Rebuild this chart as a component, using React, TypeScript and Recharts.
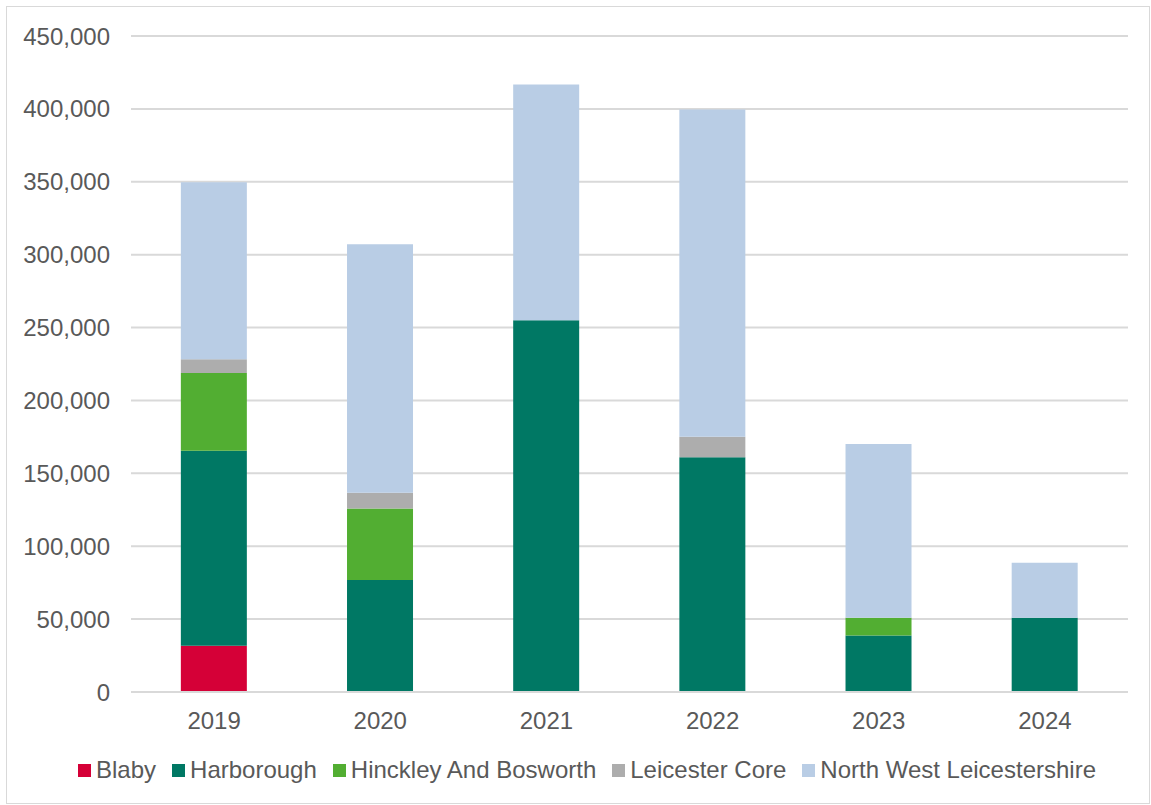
import React from "react"
import { BarChart, Bar, XAxis, YAxis, CartesianGrid } from "recharts"

const years = ["2019", "2020", "2021", "2022", "2023", "2024"]
const blaby = [31700, 0, 0, 0, 0, 0]
const harborough = [133800, 76900, 255000, 161000, 38800, 50900]
const hinckley = [53400, 48900, 0, 0, 12100, 0]
const leicesterCore = [9400, 10900, 0, 14100, 0, 0]
const northWest = [121300, 170400, 161700, 224500, 119200, 37700]
const yTicks = [0, 50000, 100000, 150000, 200000, 250000, 300000, 350000, 400000, 450000]

const series = [
  { key: "blaby", name: "Blaby", color: "#D50037", values: blaby },
  { key: "harborough", name: "Harborough", color: "#007864", values: harborough },
  { key: "hinckley", name: "Hinckley And Bosworth", color: "#52AE32", values: hinckley },
  { key: "leicesterCore", name: "Leicester Core", color: "#ADADAD", values: leicesterCore },
  { key: "northWest", name: "North West Leicestershire", color: "#B9CDE5", values: northWest },
]

const data = years.map((year, i) => {
  const row: Record<string, string | number> = { year }
  series.forEach((s) => {
    row[s.key] = s.values[i]
  })
  return row
})

const font = "'Liberation Sans', Arial, sans-serif"
const textColor = "#595959"
const gridColor = "#D9D9D9"

export default function App() {
  return (
    <div style={{ position: "absolute", left: 0, top: 0, width: 1151, height: 805, background: "#fff", fontFamily: font }}>
      <div
        style={{
          position: "absolute",
          left: 6,
          top: 6,
          width: 1142,
          height: 796,
          border: `1px solid ${gridColor}`,
        }}
      />
      <div style={{ position: "absolute", left: 0, top: 0 }}>
        <BarChart
          width={1151}
          height={805}
          data={data}
          margin={{ top: 36, right: 23, left: 31, bottom: 73 }}
          barCategoryGap="30%"
        >
          <CartesianGrid vertical={false} stroke={gridColor} strokeWidth={2} />
          <XAxis
            dataKey="year"
            height={40}
            tickLine={false}
            axisLine={{ stroke: gridColor, strokeWidth: 2 }}
            tickSize={0}
            tickMargin={20}
            tick={{ fill: textColor, fontSize: 24, fontFamily: font }}
          />
          <YAxis
            width={100}
            domain={[0, 450000]}
            ticks={yTicks}
            axisLine={false}
            tickLine={false}
            tickSize={0}
            tickMargin={21}
            tick={{ fill: textColor, fontSize: 24, fontFamily: font }}
            tickFormatter={(v: number) => v.toLocaleString("en-US")}
          />
          {series.map((s) => (
            <Bar key={s.key} dataKey={s.key} name={s.name} stackId="a" fill={s.color} isAnimationActive={false} />
          ))}
        </BarChart>
      </div>
      <div
        style={{
          position: "absolute",
          left: 6,
          width: 1162,
          top: 756,
          display: "flex",
          justifyContent: "center",
          alignItems: "center",
          fontSize: 24,
          color: textColor,
          whiteSpace: "nowrap",
        }}
      >
        {series.map((s, i) => (
          <div key={s.key} style={{ display: "flex", alignItems: "center", marginLeft: i === 0 ? 0 : 16 }}>
            <span style={{ display: "inline-block", width: 13, height: 13, background: s.color, marginRight: 5 }} />
            <span>{s.name}</span>
          </div>
        ))}
      </div>
    </div>
  )
}
